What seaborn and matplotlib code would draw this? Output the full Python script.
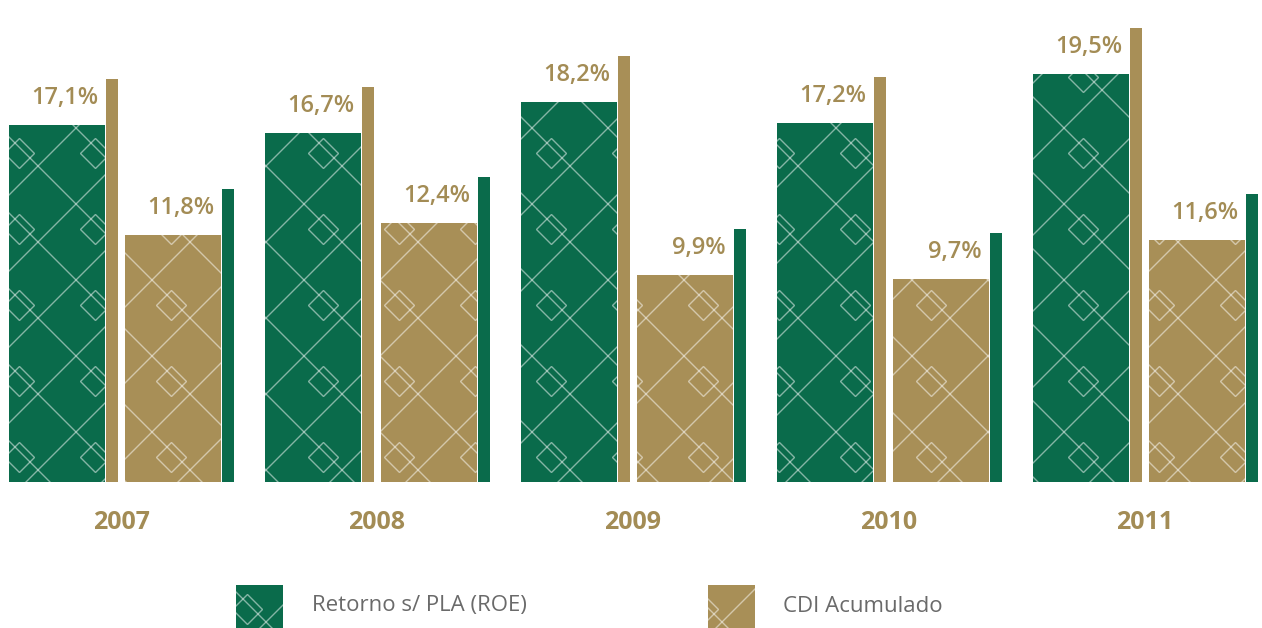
import numpy as np
import pandas as pd
import matplotlib
matplotlib.use("Agg")
import matplotlib.pyplot as plt
from matplotlib.patches import Rectangle
from matplotlib.collections import LineCollection
from matplotlib.lines import Line2D
from matplotlib.transforms import IdentityTransform
import seaborn as sns

years = ["2007", "2008", "2009", "2010", "2011"]
roe = [17.1, 16.7, 18.2, 17.2, 19.5]
cdi = [11.8, 12.4, 9.9, 9.7, 11.6]
series_names = ["Retorno s/ PLA (ROE)", "CDI Acumulado"]

GREEN = "#0a6b4b"
GOLD = "#a88f57"
TEXT_GOLD = "#a38c55"
GRAY = "#6a6a6a"

sns.set_theme(style="white")
plt.rcParams["font.family"] = ["Open Sans", "DejaVu Sans"]

W, H, DPI = 1262, 628, 100
fig = plt.figure(figsize=(W / DPI, H / DPI), dpi=DPI)
base_px = 482  # baseline from top
ax = fig.add_axes([0, (H - base_px) / H, 1, base_px / H])

df = pd.DataFrame({
    "year": years * 2,
    "value": roe + cdi,
    "series": [series_names[0]] * len(years) + [series_names[1]] * len(years),
})

sns.barplot(data=df, x="year", y="value", hue="series", hue_order=series_names,
            palette=[GREEN, GOLD], width=0.875, dodge=True, legend=False,
            saturation=1, ax=ax, errorbar=None, linewidth=0)

px = 1 / 256.0
ax.set_xlim(-121 * px, (W - 121) * px)
ppu = 20.9
ax.set_ylim(0, base_px / ppu)

bar_w = 96 * px
acc_w = 11.5 * px
accent_extra = 46 / ppu

bars = sorted([p for p in ax.patches], key=lambda p: p.get_x())
for p in bars:
    p.set_linewidth(0)
    slot_left = p.get_x()
    cx = slot_left + p.get_width() / 2
    i = int(round(cx))
    p.set_width(bar_w)
    if cx < i:
        p.set_x(i - 0.4375)
    else:
        p.set_x(i + 4 * px)

LINE_RGBA = (1, 1, 1, 0.5)


def pattern(container, clip_patch):
    # diamond lattice of thin white lines in display pixels
    P = 76
    segs = []
    for c in range(-1400, 2800, P):
        segs.append([(-50, -50 + c), (1400, 1400 + c)])
        segs.append([(-50, c + 50), (1400, c - 1400)])
    lc = LineCollection(segs, colors=[LINE_RGBA], linewidths=1.0,
                        transform=IdentityTransform())
    container.add_artist(lc)
    lc.set_clip_path(clip_patch)
    xs, ys = [], []
    for k in range(-20, 40):
        for m in range(-20, 40):
            x = (m - k) * P / 2
            y = (m + k) * P / 2
            if (k + m) % 2 == 0 and -50 <= x <= W + 50 and -50 <= y <= H + 50:
                xs.append(x + P / 4)
                ys.append(y + P / 4)
    ln = Line2D(xs, ys, linestyle="none", marker="D", markersize=15,
                markerfacecolor="none", markeredgecolor=LINE_RGBA,
                markeredgewidth=1.0, transform=IdentityTransform())
    container.add_artist(ln)
    ln.set_clip_path(clip_patch)


for p in bars:
    pattern(ax, p)

# accent bars and labels
for i in range(len(years)):
    gx = i - 0.4375
    ax.bar(gx + bar_w + 1 * px, roe[i] + accent_extra, width=acc_w, align="edge",
           color=GOLD, linewidth=0)
    ax.text(gx + bar_w - 7 * px, roe[i] + 21 / ppu, f"{roe[i]:.1f}%".replace(".", ","),
            ha="right", va="baseline", color=TEXT_GOLD, fontsize=17, fontweight="semibold")
    dx = i + 4 * px
    ax.bar(dx + bar_w + 1 * px, cdi[i] + accent_extra, width=acc_w, align="edge",
           color=GREEN, linewidth=0)
    ax.text(dx + bar_w - 7 * px, cdi[i] + 21 / ppu, f"{cdi[i]:.1f}%".replace(".", ","),
            ha="right", va="baseline", color=TEXT_GOLD, fontsize=17, fontweight="semibold")

ax.set_xticks(range(len(years)))
ax.set_xticklabels(years, color=TEXT_GOLD, fontsize=18, fontweight="bold")
ax.tick_params(axis="x", length=0, pad=20)
ax.set_yticks([])
ax.set_xlabel("")
ax.set_ylabel("")
for s in ax.spines.values():
    s.set_visible(False)

# legend
legend_items = [(236, GREEN, 312, series_names[0]), (708, GOLD, 783, series_names[1])]
for x0, col, tx, label in legend_items:
    r = Rectangle((x0 / W, 0), 47 / W, 43 / H, transform=fig.transFigure,
                  facecolor=col, edgecolor="none")
    fig.add_artist(r)
    pattern(fig, r)
    fig.text(tx / W, 22 / H, label, color=GRAY, fontsize=16, ha="left", va="center")

fig.savefig("out.png", dpi=DPI)
